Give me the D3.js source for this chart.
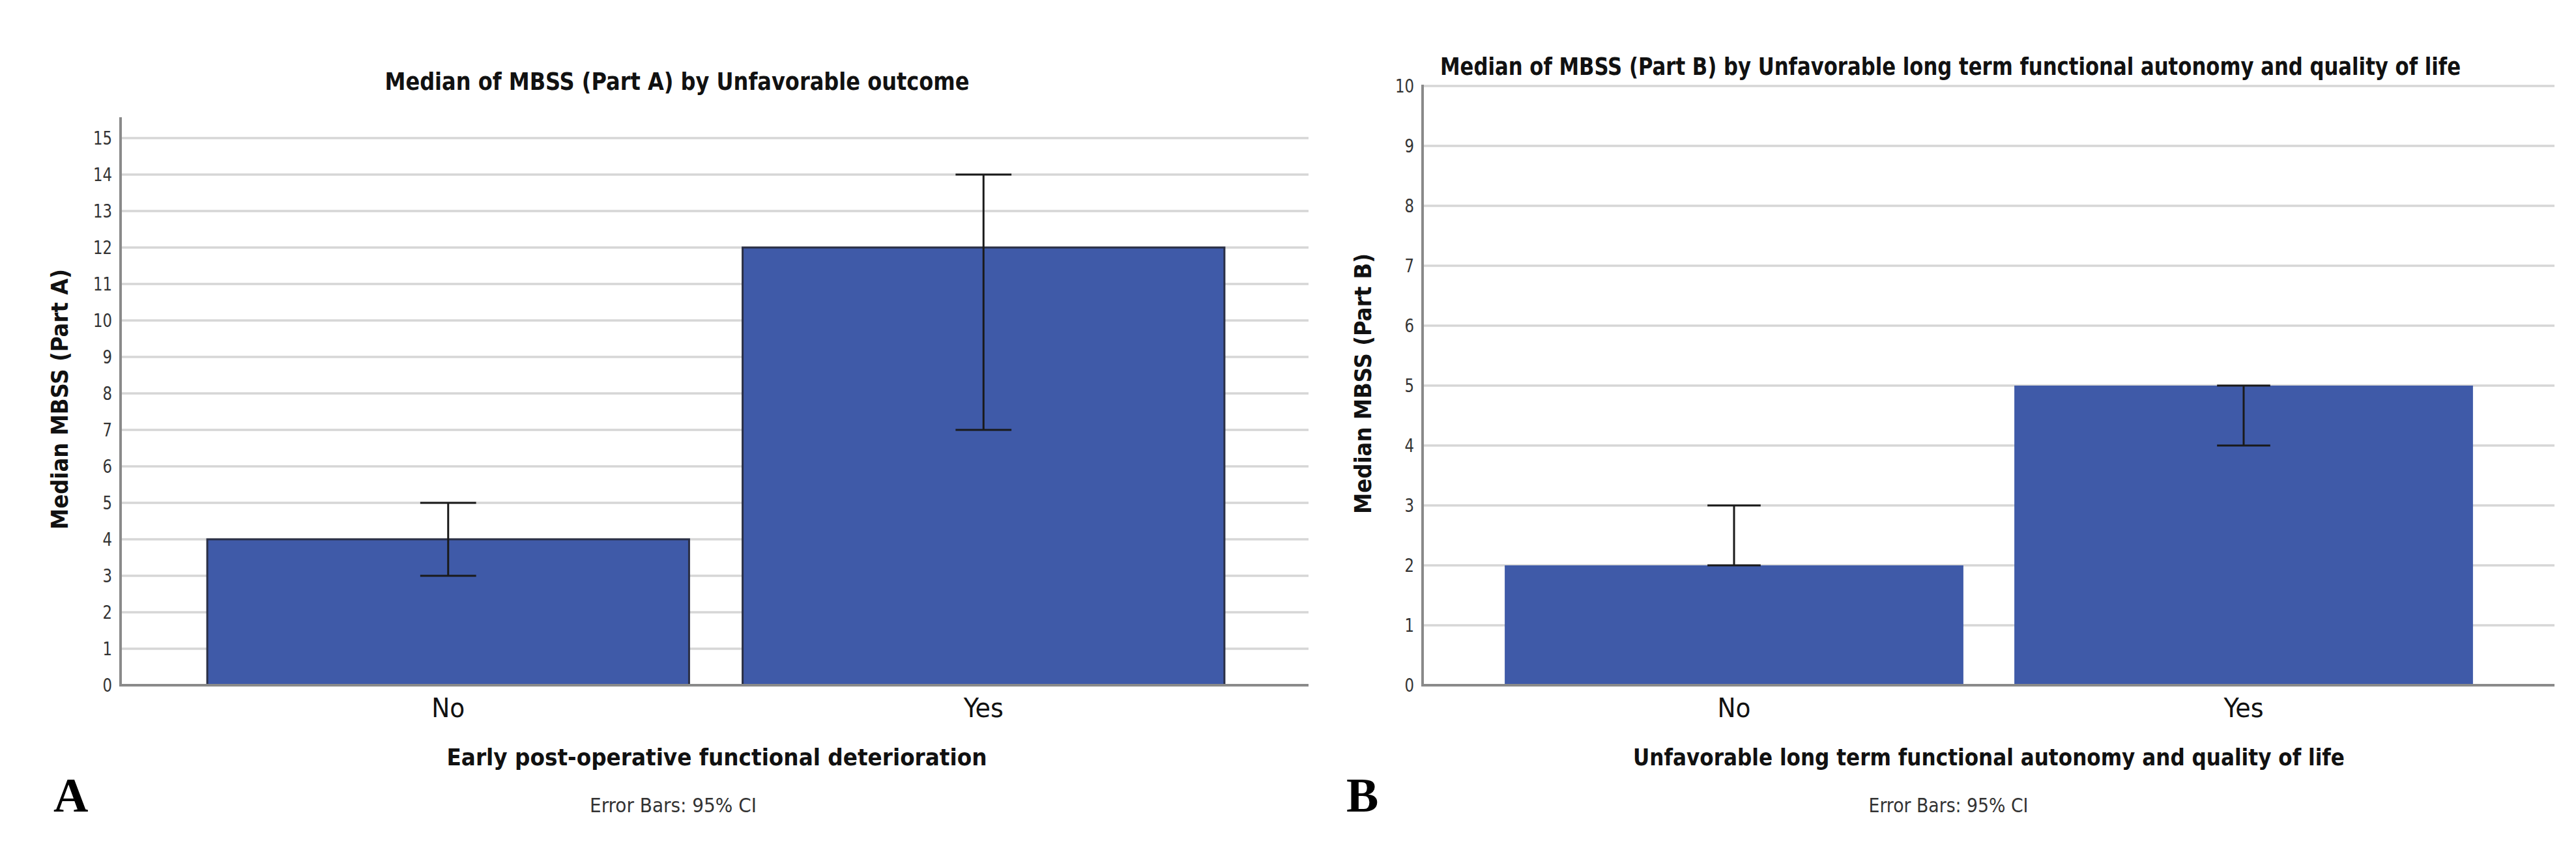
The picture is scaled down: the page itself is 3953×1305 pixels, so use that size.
<!DOCTYPE html>
<html>
<head>
<meta charset="utf-8">
<script src="https://cdn.jsdelivr.net/npm/d3@7"></script>
<style>
  body { margin: 0; background: #fff; }
  svg { display: block; font-family: "Liberation Sans Narrow", "DejaVu Sans Condensed", "Liberation Sans", sans-serif; }
</style>
</head>
<body>
<svg id="chart" width="3953" height="1305"></svg>
<script>
// values
const categories = ["No", "Yes"];

const medianA = [4, 12];
const ciLowA = [3, 7];
const ciHighA = [5, 14];
const ticksA = [0, 1, 2, 3, 4, 5, 6, 7, 8, 9, 10, 11, 12, 13, 14, 15];

const medianB = [2, 5];
const ciLowB = [2, 4];
const ciHighB = [3, 5];
const ticksB = [0, 1, 2, 3, 4, 5, 6, 7, 8, 9, 10];

const barColor = "#3f5aa8";
const gridColor = "#d6d6d6";
const axisColor = "#8a8a8a";

const svg = d3.select("#chart");
svg.append("rect").attr("width", 3953).attr("height", 1305).attr("fill", "#fff");

// squeeze a text to the width it has in the picture
function fit(sel, w) {
    sel.attr("textLength", w).attr("lengthAdjust", "spacingAndGlyphs");
    return sel;
}

function drawPanel(p) {
    const g = svg.append("g");
    const data = categories.map((c, i) => ({ cat: c, med: p.med[i], lo: p.lo[i], hi: p.hi[i] }));

    const y = d3.scaleLinear().domain([0, p.yMax]).range([p.y0, p.yTop]);
    const x = d3.scaleBand()
        .domain(categories)
        .range(p.bandRange)
        .paddingInner(0.1)
        .paddingOuter(0.05);

    // grid lines
    g.selectAll("line.grid")
        .data(p.ticks.filter(t => t > 0))
        .enter()
        .append("line")
        .attr("class", "grid")
        .attr("x1", p.axisX)
        .attr("x2", p.right)
        .attr("y1", d => y(d))
        .attr("y2", d => y(d))
        .attr("stroke", gridColor)
        .attr("stroke-width", 3.5);

    // y tick labels
    g.selectAll("text.ytick")
        .data(p.ticks)
        .enter()
        .append("text")
        .attr("class", "ytick")
        .attr("x", p.axisX - 13)
        .attr("y", d => y(d))
        .attr("dy", "0.36em")
        .attr("text-anchor", "end")
        .attr("font-size", 28)
        .attr("fill", "#333")
        .each(function (d) { fit(d3.select(this), String(d).length * 14.5); })
        .text(d => d);

    // bars
    g.selectAll("rect.bar")
        .data(data)
        .enter()
        .append("rect")
        .attr("class", "bar")
        .attr("x", d => x(d.cat))
        .attr("y", d => y(d.med))
        .attr("width", x.bandwidth())
        .attr("height", d => y(0) - y(d.med))
        .attr("fill", barColor)
        .attr("stroke", p.outline ? "#2a2f45" : "none")
        .attr("stroke-width", 3);

    // axes
    g.append("line")
        .attr("x1", p.axisX).attr("x2", p.axisX)
        .attr("y1", y(0) + 2).attr("y2", p.axisTop)
        .attr("stroke", axisColor).attr("stroke-width", 4);
    g.append("line")
        .attr("x1", p.axisX).attr("x2", p.right)
        .attr("y1", y(0)).attr("y2", y(0))
        .attr("stroke", axisColor).attr("stroke-width", 4);

    // 95% CI error bars
    const cap = x.bandwidth() * 0.058;
    const eb = g.selectAll("g.err").data(data).enter().append("g").attr("class", "err")
        .attr("stroke", "#1a1a1a").attr("stroke-width", 3);
    eb.append("line")
        .attr("x1", d => x(d.cat) + x.bandwidth() / 2)
        .attr("x2", d => x(d.cat) + x.bandwidth() / 2)
        .attr("y1", d => y(d.lo)).attr("y2", d => y(d.hi));
    eb.append("line")
        .attr("x1", d => x(d.cat) + x.bandwidth() / 2 - cap)
        .attr("x2", d => x(d.cat) + x.bandwidth() / 2 + cap)
        .attr("y1", d => y(d.hi)).attr("y2", d => y(d.hi));
    eb.append("line")
        .attr("x1", d => x(d.cat) + x.bandwidth() / 2 - cap)
        .attr("x2", d => x(d.cat) + x.bandwidth() / 2 + cap)
        .attr("y1", d => y(d.lo)).attr("y2", d => y(d.lo));

    // category labels
    g.selectAll("text.xtick")
        .data(data)
        .enter()
        .append("text")
        .attr("class", "xtick")
        .attr("x", d => x(d.cat) + x.bandwidth() / 2)
        .attr("y", 1101)
        .attr("text-anchor", "middle")
        .attr("font-size", 40)
        .attr("fill", "#111")
        .each(function (d) { fit(d3.select(this), d.cat === "No" ? 51 : 61); })
        .text(d => d.cat);

    // titles
    fit(g.append("text")
        .attr("x", p.titleX).attr("y", p.titleY)
        .attr("text-anchor", "middle")
        .attr("fill", "#111")
        .attr("font-size", 38).attr("font-weight", "bold"), p.titleW)
        .text(p.title);

    fit(g.append("text")
        .attr("transform", `translate(${p.yLabX},${p.yLabY}) rotate(-90)`)
        .attr("text-anchor", "middle")
        .style("font-family", "'DejaVu Sans', Verdana, sans-serif")
        .attr("fill", "#111")
        .attr("font-size", 35).attr("font-weight", "bold"), 400)
        .text(p.yLabel);

    fit(g.append("text")
        .attr("x", p.xLabX).attr("y", 1175)
        .attr("text-anchor", "middle")
        .attr("fill", "#111")
        .attr("font-size", 36).attr("font-weight", "bold"), p.xLabW)
        .text(p.xLabel);

    fit(g.append("text")
        .attr("x", p.noteX).attr("y", 1247)
        .attr("text-anchor", "middle")
        .attr("font-size", 30).attr("fill", "#333"), p.noteW)
        .text("Error Bars: 95% CI");

    g.append("text")
        .attr("x", p.letterX).attr("y", 1246)
        .style("font-family", "'Liberation Serif', 'DejaVu Serif', serif")
        .attr("font-size", 74).attr("font-weight", "bold")
        .attr("fill", "#000")
        .text(p.letter);
}

drawPanel({
    med: medianA, lo: ciLowA, hi: ciHighA, ticks: ticksA, yMax: 15,
    y0: 1052, yTop: 212, axisTop: 180, axisX: 185, right: 2008,
    bandRange: [277, 1920], outline: true,
    title: "Median of MBSS (Part A) by Unfavorable outcome", titleX: 1039, titleY: 138, titleW: 897,
    yLabel: "Median MBSS (Part A)", yLabX: 104, yLabY: 613,
    xLabel: "Early post-operative functional deterioration", xLabX: 1100, xLabW: 829,
    noteX: 1033, noteW: 256, letter: "A", letterX: 82
});

drawPanel({
    med: medianB, lo: ciLowB, hi: ciHighB, ticks: ticksB, yMax: 10,
    y0: 1052, yTop: 132, axisTop: 130, axisX: 2183, right: 3920,
    bandRange: [2270, 3834], outline: false,
    title: "Median of MBSS (Part B) by Unfavorable long term functional autonomy and quality of life",
    titleX: 2993, titleY: 115, titleW: 1566,
    yLabel: "Median MBSS (Part B)", yLabX: 2104, yLabY: 589,
    xLabel: "Unfavorable long term functional autonomy and quality of life", xLabX: 3052, xLabW: 1092,
    noteX: 2990, noteW: 245, letter: "B", letterX: 2066
});
</script>
</body>
</html>
